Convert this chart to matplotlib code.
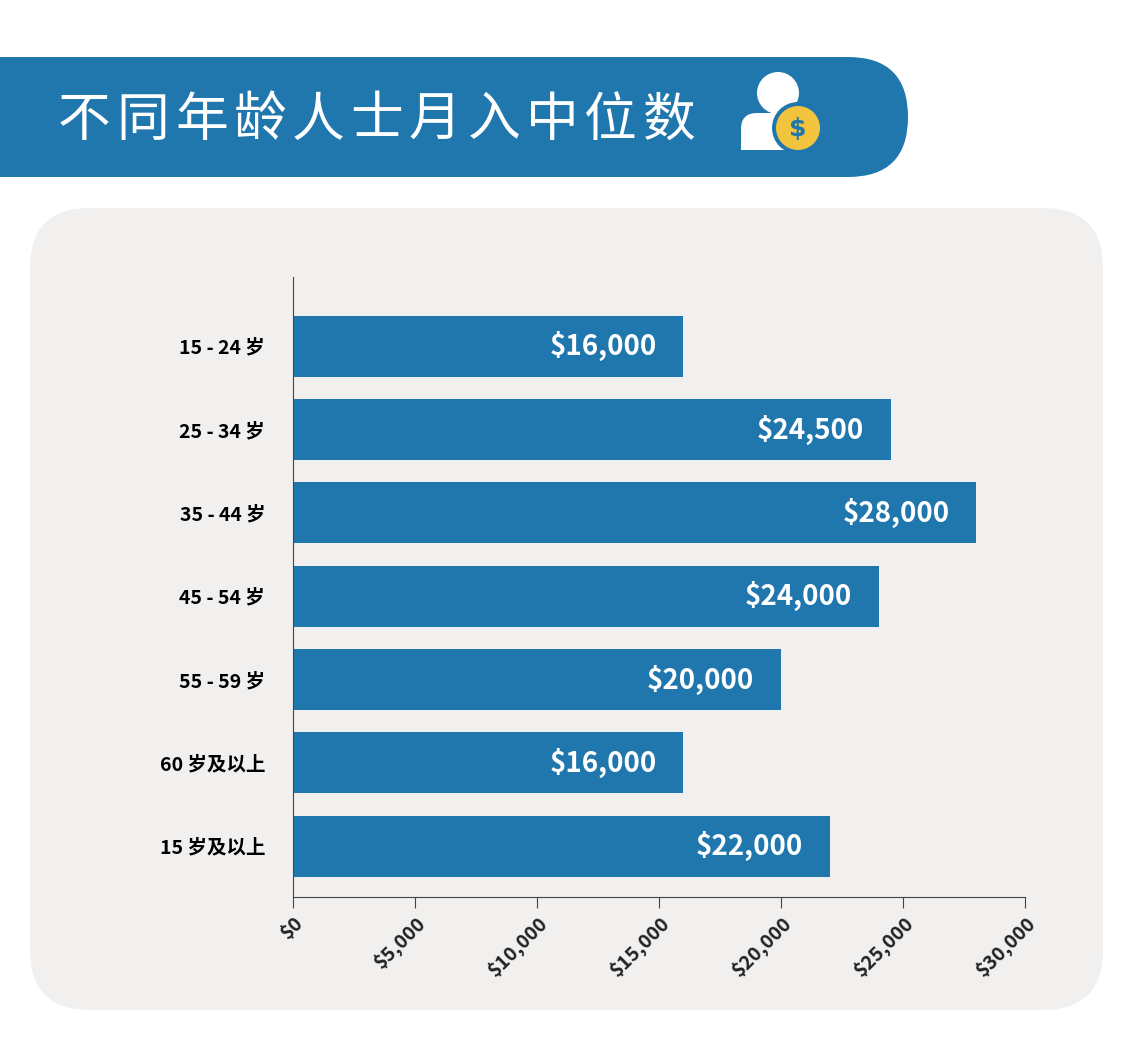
import matplotlib
matplotlib.use("Agg")
import matplotlib.pyplot as plt
from matplotlib.patches import FancyBboxPatch, Circle, Rectangle

plt.rcParams['font.family'] = ['Noto Sans CJK SC', 'DejaVu Sans']

categories = ["15 - 24 岁", "25 - 34 岁", "35 - 44 岁", "45 - 54 岁", "55 - 59 岁", "60 岁及以上", "15 岁及以上"]
values = [16000, 24500, 28000, 24000, 20000, 16000, 22000]
ticks = [0, 5000, 10000, 15000, 20000, 25000, 30000]
title = "不同年龄人士月入中位数"

BLUE = "#1f77ae"
W, H = 1135, 1041
fig = plt.figure(figsize=(11.35, 10.41), dpi=100)
bg = fig.add_axes([0, 0, 1, 1])
bg.set_xlim(0, W); bg.set_ylim(H, 0); bg.axis('off')

# header banner
bg.add_patch(FancyBboxPatch((-100, 57), 1008, 120, boxstyle="round,pad=0,rounding_size=60", fc=BLUE, ec='none'))
for k, ch in enumerate(title):
    bg.text(58 + k * 58.5, 120, ch, color='white', fontsize=38, va='center', ha='left')
# icon
ix, iy = 778, 93
bg.add_patch(Circle((ix, iy), 21, fc='white', ec='none'))
bg.add_patch(FancyBboxPatch((741, 113), 66, 37, boxstyle="round,pad=0,rounding_size=16", fc='white', ec='none'))
bg.add_patch(Rectangle((741, 132), 66, 18, fc='white', ec='none'))
bg.add_patch(Circle((798, 128), 26, fc=BLUE, ec='none'))
bg.add_patch(Circle((798, 128), 22, fc='#f2c43d', ec='none'))
bg.text(798, 129, "$", color=BLUE, fontsize=18, fontweight='bold', ha='center', va='center', family='DejaVu Sans')

# gray panel
bg.add_patch(FancyBboxPatch((30, 208), 1073, 802, boxstyle="round,pad=0,rounding_size=60", fc='#f2f0ef', ec='none'))

ax = fig.add_axes([293/W, 1-897/H, (1025-293)/W, 620/H])
ax.patch.set_alpha(0)
y = list(range(len(categories)))
ax.barh(y, values, height=0.73, color=BLUE)
ax.set_ylim(6.61, -0.83)
ax.set_xlim(0, 30000)
for i, v in zip(y, values):
    ax.text(v - 1100, i, f"${v:,}", color='white', fontsize=20, fontweight='bold', ha='right', va='center')
ax.set_yticks(y)
ax.set_yticklabels(categories, fontsize=14, fontweight='bold')
ax.tick_params(axis='y', length=0, pad=20)
ax.set_xticks(ticks)
ax.set_xticklabels([f"${t:,}" for t in ticks], rotation=45, ha='right', rotation_mode='anchor', fontsize=14, fontweight='bold', color='#222222')
ax.tick_params(axis='x', length=8, color='#444444', pad=4)
for s in ['top', 'right']:
    ax.spines[s].set_visible(False)
for s in ['left', 'bottom']:
    ax.spines[s].set_color('#444444')

fig.savefig("out.png", dpi=100)
